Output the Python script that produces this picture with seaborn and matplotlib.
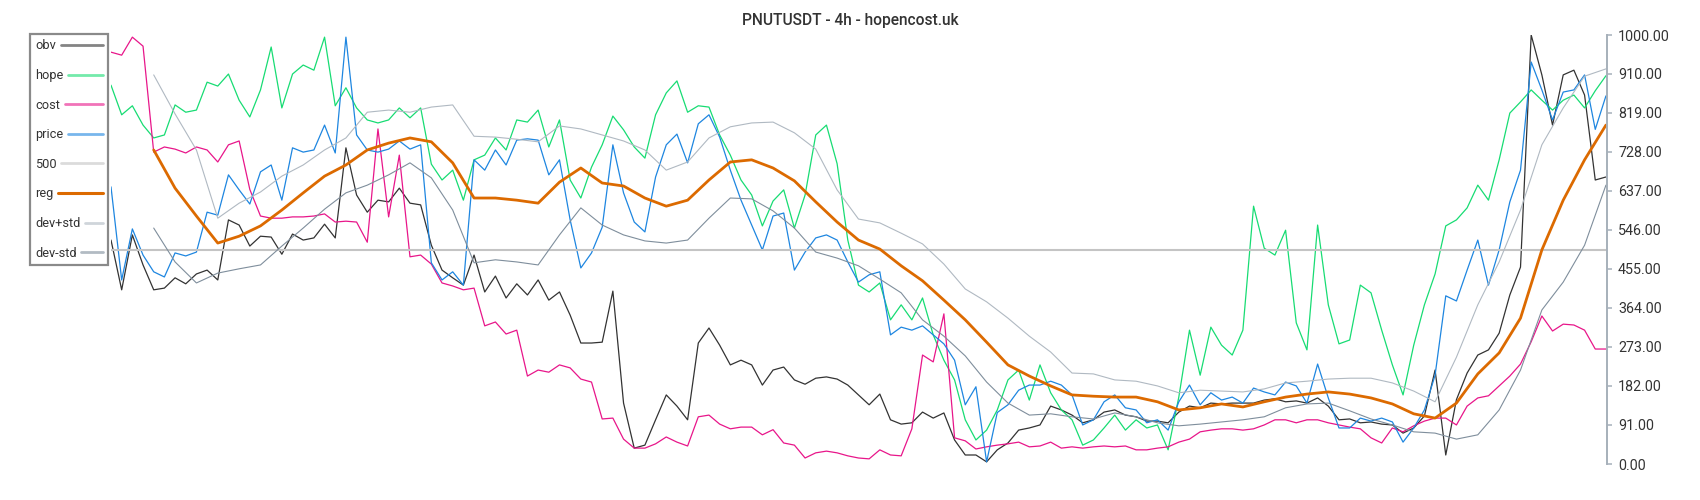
import numpy as np
import pandas as pd
import matplotlib
matplotlib.use("Agg")
import matplotlib.pyplot as plt
import seaborn as sns
from matplotlib.lines import Line2D
from matplotlib.legend_handler import HandlerLine2D

title = "PNUTUSDT - 4h - hopencost.uk"
n_points = 281

# jagged series, one value every 2 candles
price = [646, 429, 548, 487, 448, 436, 492, 485, 494, 587,
         580, 674, 639, 606, 681, 697, 615, 737, 727, 732,
         790, 725, 995, 767, 732, 727, 734, 753, 734, 744,
         469, 429, 448, 417, 709, 685, 732, 697, 755, 758,
         755, 674, 709, 569, 457, 492, 552, 744, 632, 564,
         541, 669, 744, 769, 702, 793, 814, 762, 685, 615,
         557, 499, 578, 585, 452, 494, 527, 534, 522, 471,
         424, 441, 448, 301, 319, 312, 322, 301, 280, 242,
         138, 180, 5, 120, 138, 172, 184, 184, 193, 184,
         161, 91, 103, 145, 161, 131, 126, 96, 103, 79,
         145, 184, 138, 166, 149, 156, 142, 177, 168, 161,
         191, 182, 142, 233, 154, 84, 84, 107, 100, 107,
         98, 51, 84, 126, 207, 392, 380, 452, 522, 417,
         499, 611, 685, 937, 872, 802, 867, 872, 907, 780,
         858]

hope = [883, 814, 835, 790, 760, 767, 837, 820, 825, 890,
        881, 909, 848, 809, 872, 972, 830, 909, 930, 918,
        995, 835, 877, 830, 802, 795, 802, 830, 807, 830,
        699, 662, 685, 615, 709, 720, 760, 732, 802, 797,
        825, 739, 802, 662, 620, 692, 744, 811, 779, 739,
        713, 814, 865, 893, 820, 835, 832, 767, 720, 662,
        627, 555, 613, 639, 550, 627, 767, 790, 700, 522,
        417, 401, 422, 336, 371, 336, 387, 301, 242, 196,
        103, 56, 79, 126, 196, 219, 149, 231, 166, 126,
        103, 44, 56, 84, 114, 79, 103, 84, 91, 33,
        156, 312, 207, 319, 277, 254, 312, 601, 503, 487,
        545, 329, 266, 557, 371, 280, 289, 417, 399, 312,
        231, 161, 277, 371, 443, 555, 569, 597, 650, 615,
        709, 818, 844, 872, 848, 825, 848, 860, 830, 870,
        905]

cost = [960, 953, 995, 974, 727, 739, 734, 725, 739, 732,
        704, 744, 753, 640, 578, 573, 573, 576, 576, 578,
        583, 564, 566, 564, 517, 781, 576, 720, 483, 487,
        466, 422, 415, 406, 410, 322, 331, 303, 312, 205,
        219, 214, 231, 224, 198, 191, 105, 107, 58, 37,
        37, 47, 63, 51, 42, 110, 114, 93, 82, 86,
        86, 68, 80, 49, 44, 14, 26, 30, 26, 19,
        14, 12, 33, 21, 19, 82, 254, 238, 350, 61,
        54, 35, 40, 44, 47, 51, 40, 42, 51, 37,
        40, 37, 40, 42, 40, 42, 33, 33, 37, 40,
        51, 58, 75, 79, 82, 82, 79, 82, 91, 103,
        103, 96, 103, 103, 96, 91, 86, 82, 61, 49,
        84, 75, 89, 100, 107, 107, 91, 135, 154, 159,
        182, 205, 233, 285, 345, 310, 326, 324, 312, 268,
        268]

obv = [522, 406, 534, 464, 406, 410, 434, 420, 443, 452,
       429, 569, 557, 508, 531, 529, 489, 536, 522, 527,
       559, 527, 737, 627, 587, 615, 611, 643, 608, 604,
       510, 452, 434, 417, 487, 401, 438, 387, 420, 394,
       429, 382, 401, 347, 282, 282, 284, 403, 142, 37,
       44, 103, 161, 135, 103, 282, 317, 277, 231, 242,
       231, 184, 219, 226, 196, 186, 200, 203, 198, 184,
       161, 138, 163, 103, 93, 96, 121, 107, 119, 56,
       21, 21, 5, 33, 49, 79, 84, 91, 135, 126,
       114, 96, 103, 121, 126, 114, 110, 100, 100, 96,
       121, 135, 131, 142, 140, 142, 142, 142, 149, 152,
       145, 147, 142, 154, 135, 103, 105, 96, 98, 93,
       91, 72, 84, 112, 219, 21, 150, 212, 254, 266,
       305, 394, 459, 1000, 907, 790, 907, 918, 860, 662,
       669]

# smooth series, one value every 4 candles
reg = [np.nan, np.nan, 732, 643, 578, 515, 531, 555, 592, 632,
       671, 697, 732, 748, 760, 751, 702, 620, 620, 615,
       608, 657, 690, 655, 648, 620, 601, 615, 662, 704,
       709, 690, 660, 611, 564, 522, 501, 462, 427, 382,
       336, 284, 231, 205, 182, 161, 158, 156, 156, 145,
       126, 131, 140, 133, 145, 156, 163, 168, 163, 154,
       140, 117, 107, 142, 210, 259, 340, 499, 615, 709,
       790]

dev_plus = [np.nan, np.nan, 907, 816, 732, 573, 608, 634, 671, 697,
            732, 760, 820, 825, 820, 832, 837, 764, 762, 757,
            751, 788, 781, 767, 753, 732, 685, 704, 760, 786,
            795, 797, 772, 734, 639, 571, 562, 538, 513, 466,
            408, 378, 340, 298, 261, 212, 210, 196, 193, 182,
            166, 172, 170, 168, 175, 189, 193, 198, 200, 200,
            189, 170, 145, 249, 371, 471, 592, 744, 830, 904,
            921]

dev_minus = [np.nan, np.nan, 550, 471, 422, 445, 455, 464, 508, 550,
             594, 632, 650, 674, 702, 667, 592, 469, 476, 471,
             464, 534, 597, 557, 534, 520, 515, 522, 573, 620,
             618, 590, 550, 494, 480, 462, 431, 399, 336, 298,
             252, 191, 142, 114, 117, 110, 105, 119, 110, 96,
             89, 93, 98, 103, 110, 131, 140, 142, 124, 105,
             91, 75, 72, 58, 68, 126, 219, 359, 424, 510,
             650]

level = 500
y_ticks = [0, 91, 182, 273, 364, 455, 546, 637, 728, 819, 910, 1000]

t2 = np.arange(0, n_points, 2)
t4 = np.arange(0, n_points, 4)

series = [
    ("obv", t2, obv, "#333333", 0.9),
    ("hope", t2, hope, "#17dc73", 0.9),
    ("cost", t2, cost, "#e8168a", 0.9),
    ("price", t2, price, "#1e86e0", 0.9),
    ("reg", t4, reg, "#dc6a00", 2.0),
    ("dev+std", t4, dev_plus, "#b0b9c2", 0.8),
    ("dev-std", t4, dev_minus, "#7f8e9c", 0.8),
]

sns.set_theme(style="white")
plt.rcParams["font.family"] = ["Roboto", "DejaVu Sans"]

fig = plt.figure(figsize=(17, 5), dpi=100)
ax = fig.add_axes([111 / 1700, 36 / 500, 1496 / 1700, 429 / 500])

for name, t, vals, color, lw in series[:4]:
    df = pd.DataFrame({"t": t, "v": vals})
    sns.lineplot(data=df, x="t", y="v", ax=ax, color=color, linewidth=lw,
                 estimator=None, sort=False, legend=False)
ax.axhline(level, color="#c4c4c4", linewidth=1.5, zorder=2)
for name, t, vals, color, lw in series[4:]:
    df = pd.DataFrame({"t": t, "v": vals}).dropna()
    sns.lineplot(data=df, x="t", y="v", ax=ax, color=color, linewidth=lw,
                 estimator=None, sort=False, legend=False)

ax.set_xlim(0, n_points - 0.8)
ax.set_ylim(0, 1000)
ax.set_xlabel("")
ax.set_ylabel("")
ax.set_xticks([])
ax.set_yticks(y_ticks)
ax.set_yticklabels([f"{v:.2f}" for v in y_ticks])
ax.yaxis.tick_right()
for side in ["left", "top", "bottom"]:
    ax.spines[side].set_visible(False)
ax.spines["right"].set_color("#a6b0ba")
ax.spines["right"].set_linewidth(1.4)
ax.tick_params(axis="y", right=True, left=False, length=3.5, width=1.1,
               color="#a6b0ba", labelcolor="#333333", labelsize=10.3, pad=4.5)

fig.suptitle(title, x=0.5, y=1 - 20 / 500, va="center", fontsize=11.2,
             color="#333333", fontweight="medium")

# legend: text on the left, sample lines stretched to a common right edge
leg_colors = ["#333333", "#17dc73", "#e8168a", "#1e86e0", "#c4c4c4",
              "#dc6a00", "#b0b9c2", "#7f8e9c"]
leg_labels = ["obv", "hope", "cost", "price", "500", "reg", "dev+std", "dev-std"]
handles = [Line2D([], [], color=c, linewidth=2.2 if l == "reg" else 2.0,
                  alpha=1.0 if l == "reg" else 0.6)
           for c, l in zip(leg_colors, leg_labels)]

leg_kw = dict(loc="upper left", bbox_to_anchor=(30 / 1700, 1 - 34 / 500),
              bbox_transform=fig.transFigure, borderaxespad=0,
              markerfirst=False, frameon=True, fancybox=False,
              edgecolor="#8a8a8a", framealpha=1, fontsize=9.2,
              labelspacing=1.3, handlelength=1.4, handletextpad=0.35,
              borderpad=0.42, labelcolor="#333333")

leg = ax.legend(handles, leg_labels, **leg_kw)
fig.canvas.draw()
widths = [txt.get_window_extent().width for txt in leg.get_texts()]
leg.remove()


class StretchLine(HandlerLine2D):
    def __init__(self, extra):
        super().__init__()
        self.extra = extra

    def create_artists(self, legend, orig_handle, xdescent, ydescent,
                       width, height, fontsize, trans):
        return super().create_artists(legend, orig_handle, xdescent, ydescent,
                                      width + self.extra, height, fontsize, trans)


wmax = max(widths)
hmap = {h: StretchLine((wmax - w) * 72 / fig.dpi) for h, w in zip(handles, widths)}
leg = ax.legend(handles, leg_labels, handler_map=hmap, **leg_kw)
for col in leg._legend_handle_box.get_children():
    col.align = "left"
leg.get_frame().set_linewidth(1.6)
leg.set_zorder(10)

fig.savefig("out.png", dpi=100)
